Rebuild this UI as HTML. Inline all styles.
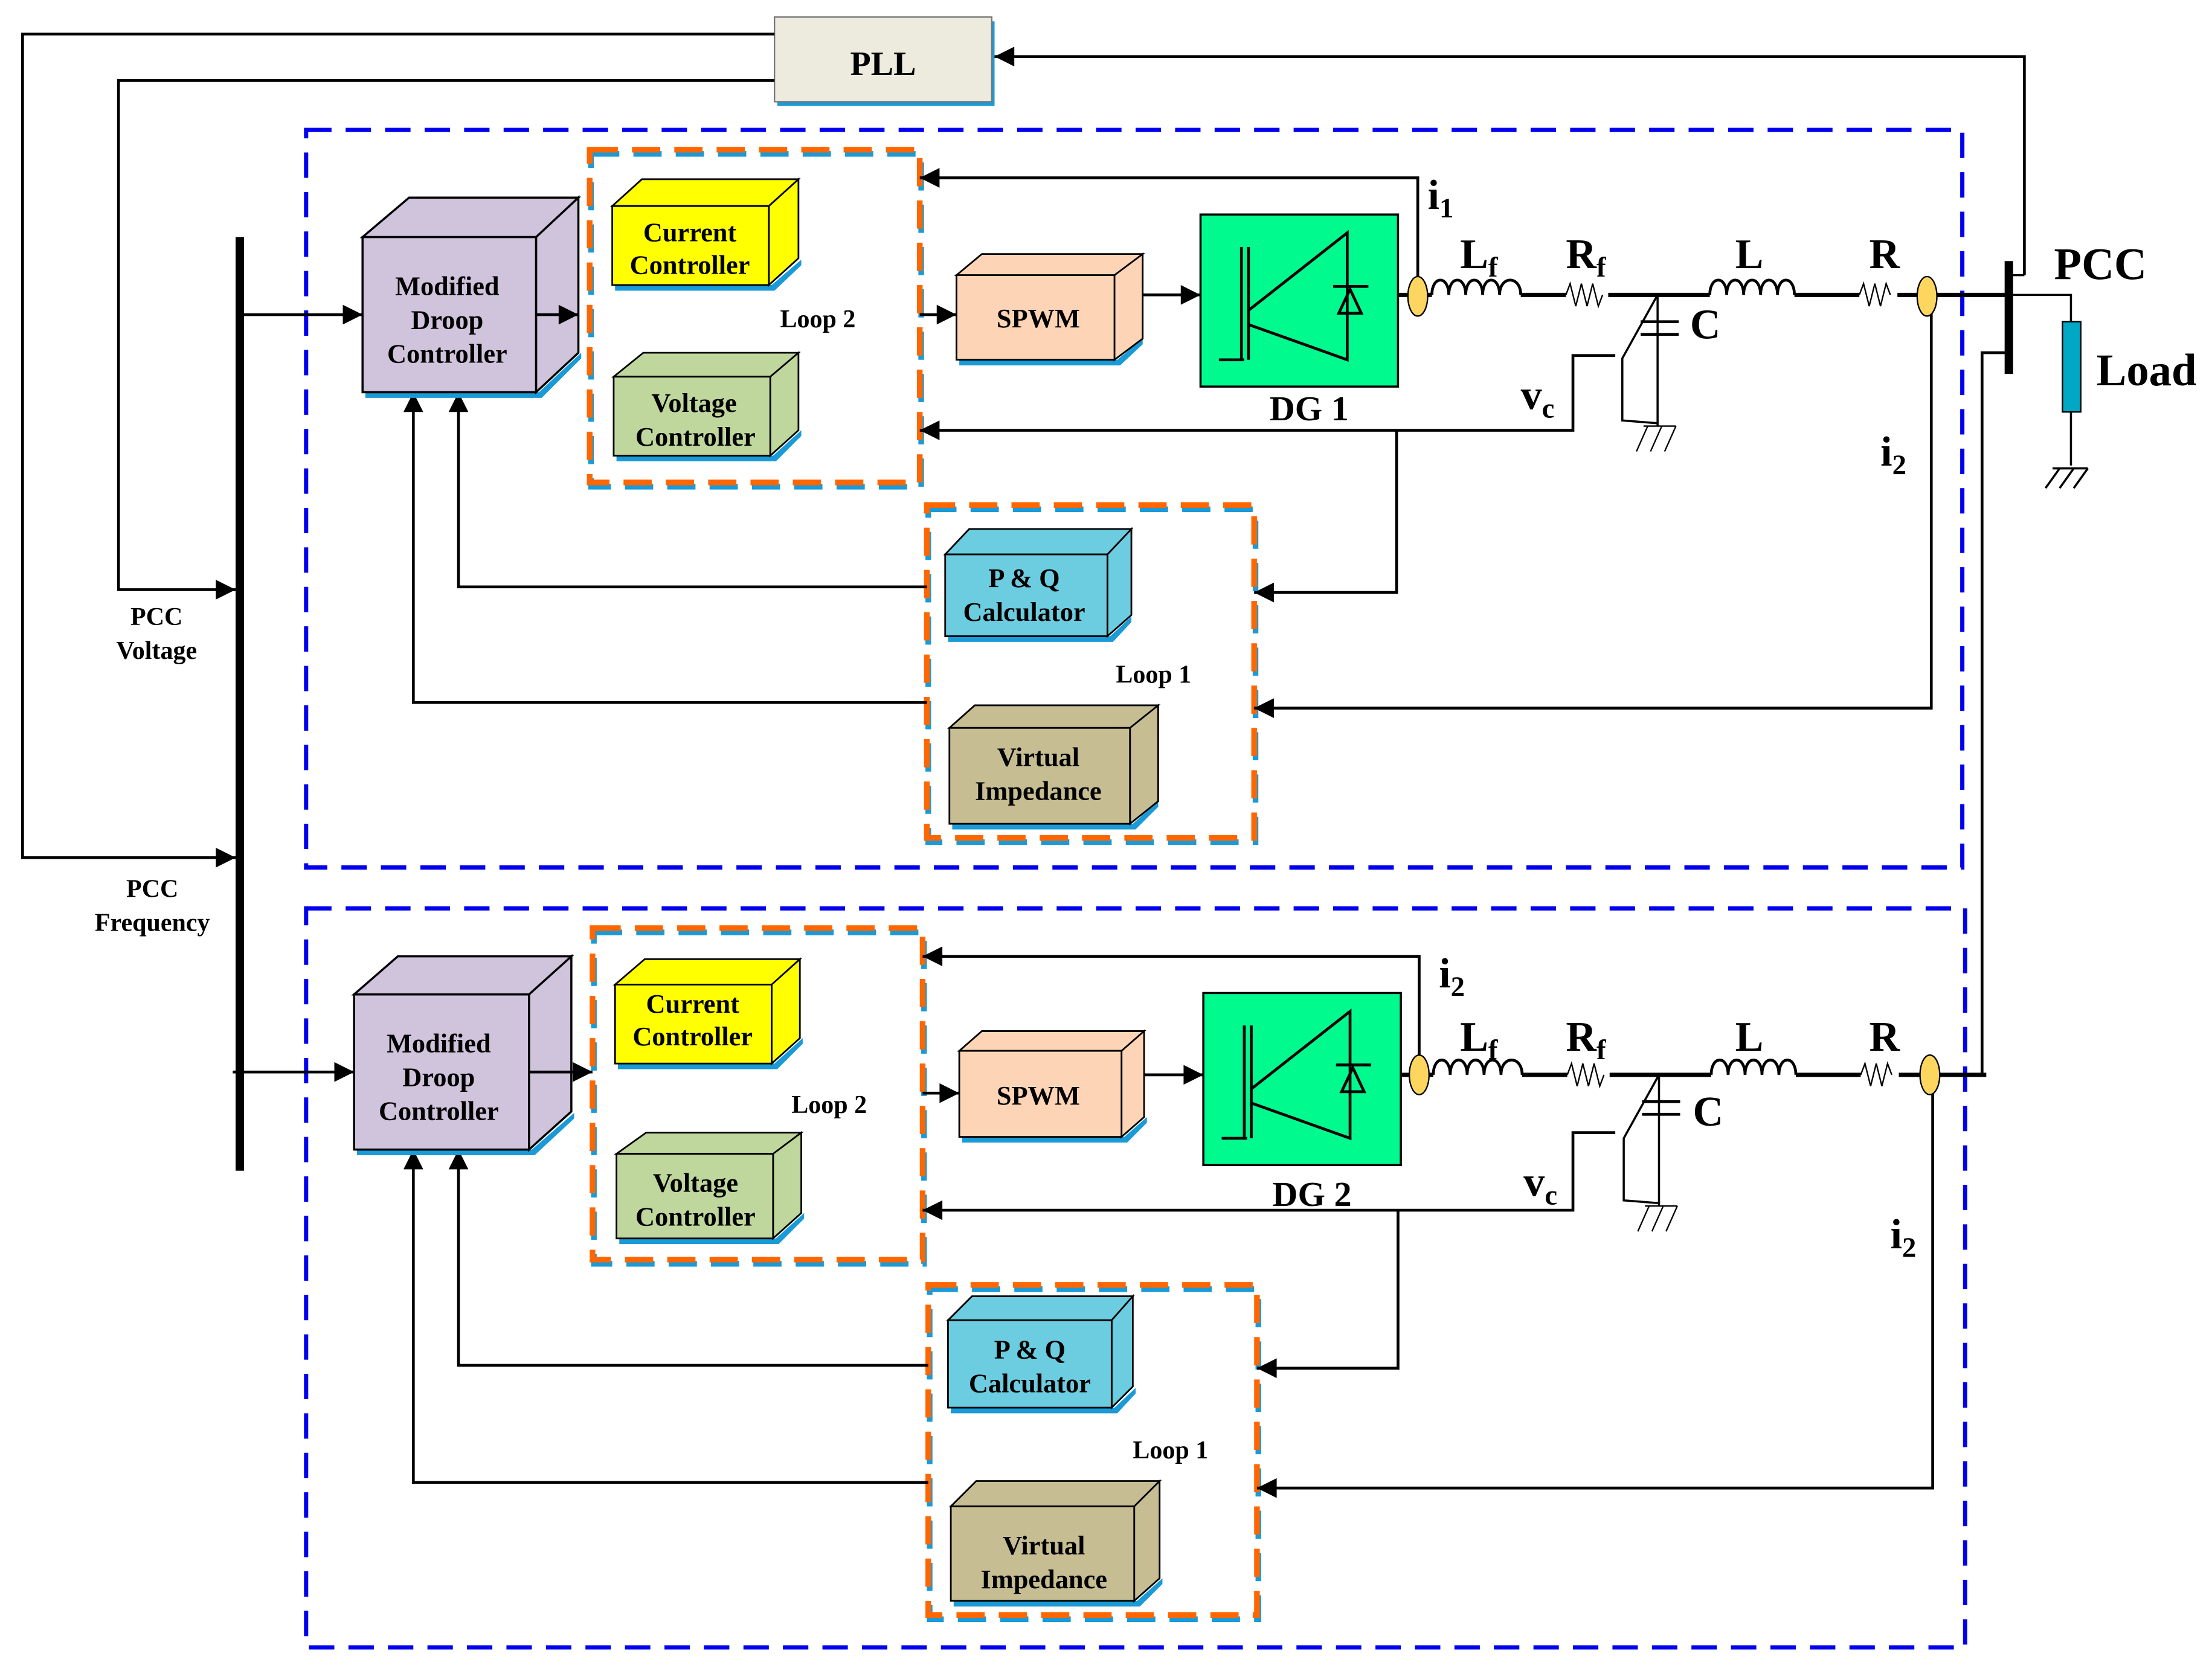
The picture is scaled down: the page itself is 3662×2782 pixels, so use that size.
<!DOCTYPE html>
<html><head><meta charset="utf-8"><style>html,body{margin:0;padding:0;background:#fff}svg{display:block}</style></head>
<body>
<svg width="3662" height="2782" viewBox="0 0 1568 1191" xmlns="http://www.w3.org/2000/svg" font-family="'Liberation Serif',serif" font-weight="bold">
<defs>
<marker id="b" viewBox="0 0 10 10" refX="10" refY="5" markerWidth="18" markerHeight="14" markerUnits="userSpaceOnUse" orient="auto"><path d="M0,0 L10,5 L0,10z" fill="#000"/></marker>
</defs>
<rect width="1568" height="1191" fill="#fff"/>

<g fill="none" stroke="#0000ee" stroke-width="3" stroke-dasharray="18,10">
<rect x="217" y="92" width="1174" height="523"/>
<rect x="217" y="644" width="1176" height="524"/>
</g>
<g fill="none" stroke-width="4" stroke-dasharray="20,10">
<g stroke="#1a9ad6" transform="translate(1,3)">
<rect x="418" y="106" width="234" height="236"/><rect x="657" y="358" width="232" height="236"/>
<rect x="420" y="658" width="234" height="235"/><rect x="658" y="911" width="233" height="234"/>
</g>
<g stroke="#ff6600">
<rect x="418" y="106" width="234" height="236"/><rect x="657" y="358" width="232" height="236"/>
<rect x="420" y="658" width="234" height="235"/><rect x="658" y="911" width="233" height="234"/>
</g>
</g>

<rect x="551" y="15" width="154" height="60" fill="#1a9ad6"/>
<rect x="549" y="12" width="154" height="60" fill="#ecebde" stroke="#777" stroke-width="1"/>
<text x="626" y="53" font-size="24" text-anchor="middle">PLL</text>

<rect x="167" y="168" width="6" height="662" fill="#000"/>

<g fill="none" stroke="#000" stroke-width="2">
<path d="M549,24 H16 V608 H167" marker-end="url(#b)"/>
<path d="M549,57 H84 V418 H167" marker-end="url(#b)"/>
<path d="M1435,195 V40 H705" marker-end="url(#b)"/>
<path d="M173,223 H257" marker-end="url(#b)"/>
<path d="M652,223 H678" marker-end="url(#b)"/>
<path d="M810,209 H851" marker-end="url(#b)"/>
<path d="M1005,198 V126 H652" marker-end="url(#b)"/>
<path d="M1145,252 H1115 V305 H652" marker-end="url(#b)"/>
<path d="M990,305 V420 H889" marker-end="url(#b)"/>
<path d="M1369,222 V502 H889" marker-end="url(#b)"/>
<path d="M657,416 H325 V278" marker-end="url(#b)"/>
<path d="M657,498 H293 V278" marker-end="url(#b)"/>

<path d="M165,760 H251" marker-end="url(#b)"/>
<path d="M654,775 H680" marker-end="url(#b)"/>
<path d="M811,762 H853" marker-end="url(#b)"/>
<path d="M1006,750 V678 H654" marker-end="url(#b)"/>
<path d="M1145,803 H1115 V858 H654" marker-end="url(#b)"/>
<path d="M991,858 V970 H891" marker-end="url(#b)"/>
<path d="M1370,774 V1055 H891" marker-end="url(#b)"/>
<path d="M658,968 H325 V815" marker-end="url(#b)"/>
<path d="M658,1051 H293 V815" marker-end="url(#b)"/>
<path d="M1405,762 V250 H1422"/>
</g>

<g fill="none" stroke="#000">
<path d="M991,209 H1015 M1078,209 H1110 M1140,209 H1212 M1272,209 H1318 M1345,209 H1422" stroke-width="3"/>
<path d="M1015,209 c0,-14 12,-14 12,0 c0,-14 12,-14 12,0 c0,-14 12,-14 12,0 c0,-14 12,-14 12,0 c0,-14 15,-14 15,0" stroke-width="2"/>
<path d="M1212,209 c0,-14 12,-14 12,0 c0,-14 12,-14 12,0 c0,-14 12,-14 12,0 c0,-14 12,-14 12,0 c0,-14 12,-14 12,0" stroke-width="2"/>
<path d="M1110,209 l3,-8 l4,16 l4,-16 l4,16 l4,-16 l4,16 l3,-8 M1318,209 l3,-8 l4,16 l4,-16 l4,16 l4,-16 l3,8" stroke-width="1"/>
<path d="M1175,209 L1150,254 V298 L1175,300 M1175,209 V302" stroke-width="1.5"/>
<path d="M1163,228 H1190 M1163,237 H1190" stroke-width="2"/>
<path d="M1165,302 H1188 M1168,302 l-8,18 M1178,302 l-8,18 M1188,302 l-8,18" stroke-width="1"/>
</g>
<g fill="none" stroke="#000" transform="translate(1,553)">
<path d="M991,209 H1015 M1078,209 H1110 M1140,209 H1212 M1272,209 H1318 M1345,209 H1407" stroke-width="3"/>
<path d="M1015,209 c0,-14 12,-14 12,0 c0,-14 12,-14 12,0 c0,-14 12,-14 12,0 c0,-14 12,-14 12,0 c0,-14 15,-14 15,0" stroke-width="2"/>
<path d="M1212,209 c0,-14 12,-14 12,0 c0,-14 12,-14 12,0 c0,-14 12,-14 12,0 c0,-14 12,-14 12,0 c0,-14 12,-14 12,0" stroke-width="2"/>
<path d="M1110,209 l3,-8 l4,16 l4,-16 l4,16 l4,-16 l4,16 l3,-8 M1318,209 l3,-8 l4,16 l4,-16 l4,16 l4,-16 l3,8" stroke-width="1"/>
<path d="M1175,209 L1150,254 V298 L1175,300 M1175,209 V302" stroke-width="1.5"/>
<path d="M1163,228 H1190 M1163,237 H1190" stroke-width="2"/>
<path d="M1165,302 H1188 M1168,302 l-8,18 M1178,302 l-8,18 M1188,302 l-8,18" stroke-width="1"/>
</g>
<g fill="#fdd660" stroke="#000" stroke-width="1">
<ellipse cx="1005" cy="210" rx="7" ry="14"/><ellipse cx="1366" cy="210" rx="7" ry="14"/>
<ellipse cx="1006" cy="762" rx="7" ry="14"/><ellipse cx="1368" cy="762" rx="7" ry="14"/>
</g>
<rect x="1421" y="185" width="6" height="80" fill="#000"/>
<path d="M1427,209 H1468 V228 M1468,292 V330 M1455,332 H1480 M1460,332 l-10,14 M1470,332 l-10,14 M1480,332 l-10,14 M1435,195 H1427" fill="none" stroke="#000" stroke-width="1.5"/>
<rect x="1462" y="228" width="13" height="64" fill="#00a8c6" stroke="#000" stroke-width="1"/>
<text x="1456" y="198" font-size="32">PCC</text>
<text x="1486" y="273" font-size="32">Load</text>

<g id="dg">
<rect x="851" y="152" width="140" height="122" fill="#00fa8e" stroke="#000" stroke-width="1.5"/>
<path d="M880,175 V255 M885,175 V255 M864,255 H882 M885,220 L955,165 V255 L885,230 M945,203 H970 M957,205 L949,222 H965 Z" fill="none" stroke="#000" stroke-width="2"/>
</g>
<use href="#dg" transform="translate(2,552)"/>
<text x="928" y="298" font-size="25" text-anchor="middle">DG 1</text>
<text x="930" y="855" font-size="25" text-anchor="middle">DG 2</text>

<g font-size="30">
<text x="1012" y="148">i<tspan font-size="20" dy="6">1</tspan></text>
<text x="1035" y="190">L<tspan font-size="20" dy="6">f</tspan></text>
<text x="1110" y="190">R<tspan font-size="20" dy="6">f</tspan></text>
<text x="1230" y="190">L</text><text x="1325" y="190">R</text>
<text x="1198" y="240">C</text>
<text x="1078" y="290">v<tspan font-size="20" dy="6">c</tspan></text>
<text x="1333" y="330">i<tspan font-size="20" dy="6">2</tspan></text>
<text x="1020" y="700">i<tspan font-size="20" dy="6">2</tspan></text>
<text x="1035" y="745">L<tspan font-size="20" dy="6">f</tspan></text>
<text x="1110" y="745">R<tspan font-size="20" dy="6">f</tspan></text>
<text x="1230" y="745">L</text><text x="1325" y="745">R</text>
<text x="1200" y="798">C</text>
<text x="1080" y="848">v<tspan font-size="20" dy="6">c</tspan></text>
<text x="1340" y="885">i<tspan font-size="20" dy="6">2</tspan></text>
</g>

<g stroke="#000" stroke-width="1.5">
<path d="M259,278 H382 L412,250 V254 L384,282 H259Z" fill="#1a9ad6" stroke="none"/>
<path d="M257,168 L290,140 H410 L380,168Z M380,168 L410,140 V250 L380,278Z" fill="#d0c3dc"/>
<rect x="257" y="168" width="123" height="110" fill="#d0c3dc"/>
<path d="M253,815 H377 L407,789 V793 L379,819 H253Z" fill="#1a9ad6" stroke="none"/>
<path d="M251,705 L282,678 H405 L375,705Z M375,705 L405,678 V788 L375,815Z" fill="#d0c3dc"/>
<rect x="251" y="705" width="124" height="110" fill="#d0c3dc"/>
</g>
<g stroke="#000" stroke-width="1.2">
<path d="M436,202 H547 L568,184 V188 L549,206 H436Z" fill="#1a9ad6" stroke="none"/>
<path d="M434,146 L455,127 H566 L545,146Z M545,146 L566,127 V183 L545,202Z" fill="#ffff00"/><rect x="434" y="146" width="111" height="56" fill="#ffff00"/>
<path d="M437,323 H548 L568,305 V309 L550,327 H437Z" fill="#1a9ad6" stroke="none"/>
<path d="M435,267 L456,250 H566 L546,267Z M546,267 L566,250 V305 L546,323Z" fill="#bfd79c"/><rect x="435" y="267" width="111" height="56" fill="#bfd79c"/>
<path d="M680,255 H792 L810,240 V244 L794,259 H680Z" fill="#1a9ad6" stroke="none"/>
<path d="M678,195 L696,180 H810 L790,195Z M790,195 L810,180 V240 L790,255Z" fill="#fdd5b6"/><rect x="678" y="195" width="112" height="60" fill="#fdd5b6"/>
<path d="M672,451 H787 L802,437 V441 L789,455 H672Z" fill="#1a9ad6" stroke="none"/>
<path d="M670,393 L687,375 H802 L785,393Z M785,393 L802,375 V436 L785,451Z" fill="#6ccce0"/><rect x="670" y="393" width="115" height="58" fill="#6ccce0"/>
<path d="M675,584 H803 L821,568 V572 L805,588 H675Z" fill="#1a9ad6" stroke="none"/>
<path d="M673,516 L691,500 H821 L801,516Z M801,516 L821,500 V568 L801,584Z" fill="#c6bd92"/><rect x="673" y="516" width="128" height="68" fill="#c6bd92"/>

<path d="M438,754 H549 L569,736 V740 L551,758 H438Z" fill="#1a9ad6" stroke="none"/>
<path d="M436,698 L457,680 H567 L547,698Z M547,698 L567,680 V736 L547,754Z" fill="#ffff00"/><rect x="436" y="698" width="111" height="56" fill="#ffff00"/>
<path d="M439,878 H550 L570,860 V864 L552,882 H439Z" fill="#1a9ad6" stroke="none"/>
<path d="M437,818 L458,803 H568 L548,818Z M548,818 L568,803 V860 L548,878Z" fill="#bfd79c"/><rect x="437" y="818" width="111" height="60" fill="#bfd79c"/>
<path d="M682,806 H797 L813,792 V796 L799,810 H682Z" fill="#1a9ad6" stroke="none"/>
<path d="M680,745 L696,731 H811 L795,745Z M795,745 L811,731 V792 L795,806Z" fill="#fdd5b6"/><rect x="680" y="745" width="115" height="61" fill="#fdd5b6"/>
<path d="M674,998 H790 L805,984 V988 L792,1002 H674Z" fill="#1a9ad6" stroke="none"/>
<path d="M672,936 L689,919 H803 L788,936Z M788,936 L803,919 V983 L788,998Z" fill="#6ccce0"/><rect x="672" y="936" width="116" height="62" fill="#6ccce0"/>
<path d="M676,1135 H806 L824,1119 V1123 L808,1139 H676Z" fill="#1a9ad6" stroke="none"/>
<path d="M674,1068 L692,1050 H822 L804,1068Z M804,1068 L822,1050 V1119 L804,1135Z" fill="#c6bd92"/><rect x="674" y="1068" width="130" height="67" fill="#c6bd92"/>
</g>
<g fill="none" stroke="#000" stroke-width="2">
<path d="M380,223 H410" marker-end="url(#b)"/>
<path d="M375,760 H420" marker-end="url(#b)"/>
</g>

<g font-size="19" text-anchor="middle">
<text x="317" y="209">Modified</text><text x="317" y="233">Droop</text><text x="317" y="257">Controller</text>
<text x="311" y="746">Modified</text><text x="311" y="770">Droop</text><text x="311" y="794">Controller</text>
<text x="489" y="171">Current</text><text x="489" y="194">Controller</text>
<text x="492" y="292">Voltage</text><text x="493" y="316">Controller</text>
<text x="491" y="718">Current</text><text x="491" y="741">Controller</text>
<text x="493" y="845">Voltage</text><text x="493" y="869">Controller</text>
<text x="736" y="232">SPWM</text><text x="736" y="783">SPWM</text>
<text x="726" y="416">P &amp; Q</text><text x="726" y="440">Calculator</text>
<text x="730" y="963">P &amp; Q</text><text x="730" y="987">Calculator</text>
<text x="736" y="543">Virtual</text><text x="736" y="567">Impedance</text>
<text x="740" y="1102">Virtual</text><text x="740" y="1126">Impedance</text>
</g>
<g font-size="18">
<text x="553" y="232">Loop 2</text><text x="561" y="789">Loop 2</text>
<text x="791" y="484">Loop 1</text><text x="803" y="1034">Loop 1</text>
</g>
<g font-size="18" text-anchor="middle">
<text x="111" y="443">PCC</text><text x="111" y="467">Voltage</text>
<text x="108" y="636">PCC</text><text x="108" y="660">Frequency</text>
</g>
</svg>
</body></html>
